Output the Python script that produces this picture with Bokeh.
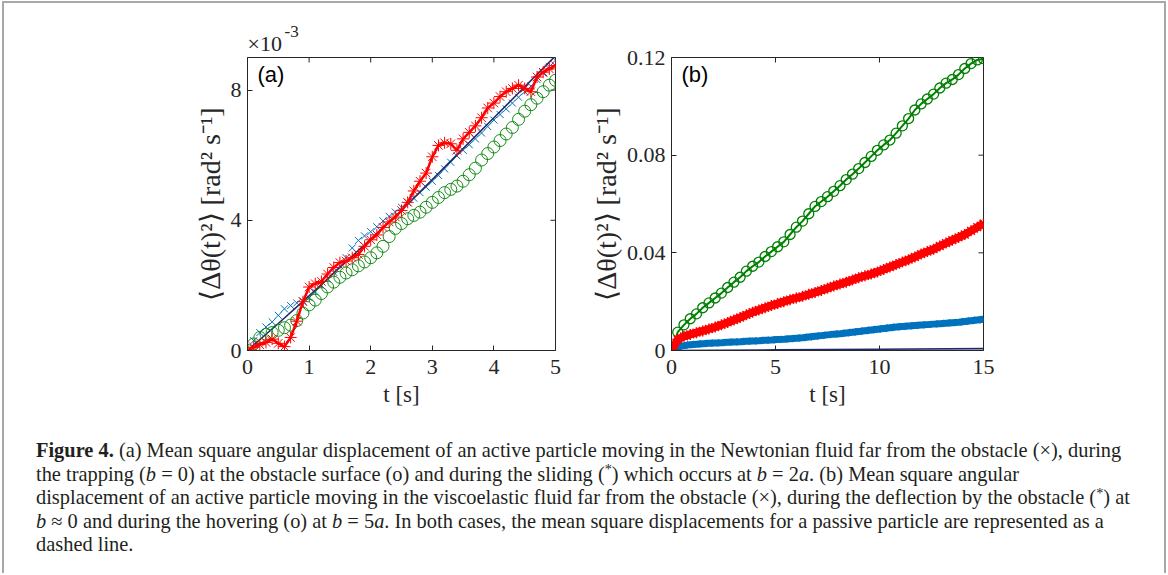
import math
from bokeh.plotting import figure
from bokeh.models import Range1d, FixedTicker, Label, Div, Spacer, Title
from bokeh.layouts import row, column
from bokeh.embed import file_html
from bokeh.resources import INLINE

# ---------------- data: panel (a), Newtonian fluid (values in units of 1e-3 rad^2 s^-1)
t_a = [0.0, 0.1, 0.2, 0.3, 0.4, 0.5, 0.6, 0.7, 0.8, 0.9,
       1.0, 1.1, 1.2, 1.3, 1.4, 1.5, 1.6, 1.7, 1.8, 1.9,
       2.0, 2.1, 2.2, 2.3, 2.4, 2.5, 2.6, 2.7, 2.8, 2.9,
       3.0, 3.1, 3.2, 3.3, 3.4, 3.5, 3.6, 3.7, 3.8, 3.9,
       4.0, 4.1, 4.2, 4.3, 4.4, 4.5, 4.6, 4.7, 4.8, 4.9, 5.0]
far_a = [0.00, 0.30, 0.55, 0.72, 0.88, 1.08, 1.28, 1.38, 1.46, 1.52,
         1.62, 1.80, 2.00, 2.20, 2.40, 2.60, 2.85, 3.15, 3.38, 3.52,
         3.65, 3.80, 3.98, 4.12, 4.25, 4.40, 4.55, 4.68, 4.85, 5.02,
         5.20, 5.38, 5.58, 5.78, 5.98, 6.15, 6.32, 6.50, 6.68, 6.88,
         7.08, 7.25, 7.42, 7.60, 7.78, 7.95, 8.12, 8.32, 8.52, 8.72, 8.92]
sliding_a = [0.00, 0.10, 0.18, 0.25, 0.35, 0.22, 0.12, 0.40, 0.90, 1.50,
             1.95, 2.05, 2.12, 2.35, 2.55, 2.70, 2.75, 2.85, 2.95, 3.20,
             3.40, 3.55, 3.78, 3.95, 4.10, 4.30, 4.55, 4.90, 5.20, 5.45,
             5.95, 6.30, 6.38, 6.35, 6.15, 6.50, 6.70, 6.90, 7.15, 7.45,
             7.60, 7.80, 7.95, 8.05, 8.15, 8.05, 7.95, 8.40, 8.55, 8.65, 8.75]
trapping_a = [0.00, 0.20, 0.40, 0.50, 0.55, 0.62, 0.70, 0.78, 0.92, 1.15,
              1.40, 1.55, 1.75, 1.95, 2.10, 2.25, 2.38, 2.48, 2.60, 2.72,
              2.85, 3.00, 3.20, 3.50, 3.75, 3.90, 4.05, 4.15, 4.25, 4.40,
              4.55, 4.70, 4.85, 4.95, 5.05, 5.20, 5.40, 5.60, 5.85, 6.05,
              6.25, 6.45, 6.65, 6.85, 7.10, 7.35, 7.55, 7.75, 7.95, 8.15, 8.30]
passive_t_a = [0.0, 0.5, 1.0, 1.5, 2.0, 2.5, 3.0, 3.5, 4.0, 4.5, 5.0]
passive_a = [0.00, 0.83, 1.68, 2.55, 3.42, 4.30, 5.25, 6.20, 7.15, 8.10, 9.05]

# ---------------- data: panel (b), viscoelastic fluid (rad^2 s^-1)
t_b = [0.0, 0.3, 0.6, 0.9, 1.2, 1.5, 1.8, 2.1, 2.4, 2.7,
       3.0, 3.3, 3.6, 3.9, 4.2, 4.5, 4.8, 5.1, 5.4, 5.7,
       6.0, 6.3, 6.6, 6.9, 7.2, 7.5, 7.8, 8.1, 8.4, 8.7,
       9.0, 9.3, 9.6, 9.9, 10.2, 10.5, 10.8, 11.1, 11.4, 11.7,
       12.0, 12.3, 12.6, 12.9, 13.2, 13.5, 13.8, 14.1, 14.4, 14.7, 15.0]
hovering_b = [0.0000, 0.0075, 0.0105, 0.0130, 0.0150, 0.0175, 0.0195, 0.0215, 0.0235, 0.0258,
              0.0280, 0.0300, 0.0325, 0.0345, 0.0362, 0.0385, 0.0405, 0.0425, 0.0445, 0.0475,
              0.0505, 0.0530, 0.0560, 0.0590, 0.0610, 0.0630, 0.0652, 0.0675, 0.0700, 0.0722,
              0.0745, 0.0770, 0.0795, 0.0820, 0.0842, 0.0862, 0.0890, 0.0920, 0.0950, 0.0985,
              0.1010, 0.1030, 0.1050, 0.1075, 0.1095, 0.1110, 0.1130, 0.1155, 0.1175, 0.1190,
              0.1195]
deflection_b = [0.0000, 0.0045, 0.0058, 0.0066, 0.0073, 0.0080, 0.0088, 0.0096, 0.0105, 0.0115,
                0.0125, 0.0135, 0.0146, 0.0157, 0.0166, 0.0175, 0.0184, 0.0192, 0.0200, 0.0208,
                0.0215, 0.0222, 0.0230, 0.0238, 0.0246, 0.0255, 0.0264, 0.0272, 0.0280, 0.0289,
                0.0298, 0.0306, 0.0313, 0.0322, 0.0332, 0.0342, 0.0352, 0.0362, 0.0372, 0.0383,
                0.0395, 0.0405, 0.0415, 0.0428, 0.0440, 0.0452, 0.0463, 0.0475, 0.0490, 0.0505,
                0.0520]
far_b = [0.0000, 0.0015, 0.0020, 0.0024, 0.0026, 0.0028, 0.0030, 0.0031, 0.0032, 0.0034,
         0.0035, 0.0036, 0.0038, 0.0039, 0.0040, 0.0042, 0.0043, 0.0045, 0.0046, 0.0048,
         0.0050, 0.0052, 0.0055, 0.0058, 0.0061, 0.0064, 0.0067, 0.0069, 0.0072, 0.0075,
         0.0078, 0.0081, 0.0084, 0.0087, 0.0090, 0.0093, 0.0096, 0.0098, 0.0100, 0.0102,
         0.0104, 0.0106, 0.0108, 0.0110, 0.0112, 0.0114, 0.0116, 0.0119, 0.0122, 0.0125,
         0.0128]
passive_t_b = [0.0, 5.0, 10.0, 15.0]
passive_b = [0.0, 0.00025, 0.0005, 0.00075]

# ---------------- tick labels
xticks_a = [0, 1, 2, 3, 4, 5]
yticks_a = [0, 4, 8]
xticks_b = [0, 5, 10, 15]
yticks_b = [0, 0.04, 0.08, 0.12]
ylabels_b = {0: "0", 0.04: "0.04", 0.08: "0.08", 0.12: "0.12"}

YLABEL = "\u27e8\u0394\u03b8(t)\u00b2\u27e9 [rad\u00b2 s\u207b\u00b9]"
XLABEL = "t [s]"

AX = "#262626"
SERIF = "Liberation Serif"
BLUE = "#0072BD"
RED = "#FF0000"
GREEN = "#008000"
NAVY = "#1F2A6B"


def style_axis(ax, ticks, overrides=None, standoff=6):
    ax.ticker = FixedTicker(ticks=ticks)
    ax.major_tick_in = 5
    ax.major_tick_out = 0
    ax.minor_tick_in = 0
    ax.minor_tick_out = 0
    ax.axis_line_color = AX
    ax.axis_line_width = 1
    ax.major_tick_line_color = AX
    ax.major_tick_line_width = 1
    ax.major_label_text_font = SERIF
    ax.major_label_text_color = AX
    ax.major_label_text_font_size = "22px"
    ax.major_label_standoff = standoff
    if overrides:
        ax.major_label_overrides = overrides
    ax.axis_label_text_font = SERIF
    ax.axis_label_text_font_style = "normal"
    ax.axis_label_text_color = AX


def make_panel(xr, yr, xt, yt, left, right, top, yover=None):
    p = figure(width=430, height=412, x_range=Range1d(*xr), y_range=Range1d(*yr),
               output_backend="svg", toolbar_location=None,
               min_border_left=left, min_border_right=right,
               min_border_top=top, min_border_bottom=65)
    p.grid.visible = False
    p.outline_line_color = AX
    p.outline_line_width = 1
    p.background_fill_color = "white"
    p.border_fill_color = "white"
    style_axis(p.xaxis[0], xt, standoff=9)
    style_axis(p.yaxis[0], yt, overrides=yover, standoff=6)
    p.xaxis[0].axis_label = XLABEL
    p.xaxis[0].axis_label_text_font_size = "23px"
    p.xaxis[0].axis_label_standoff = 5
    p.yaxis[0].axis_label = YLABEL
    p.yaxis[0].axis_label_text_font_size = "28px"
    p.yaxis[0].axis_label_standoff = 2
    # inward box ticks on the top and right edges
    p.ray(x=xt, y=[yr[1]] * len(xt), length=5, length_units="screen",
          angle=-math.pi / 2, line_color=AX, line_width=1)
    p.ray(x=[xr[1]] * len(yt), y=yt, length=5, length_units="screen",
          angle=math.pi, line_color=AX, line_width=1)
    return p


# ---------------- panel (a)
pa = make_panel((0, 5), (0, 9), xticks_a, yticks_a, 97, 25, 54)
pa.scatter(t_a, far_a, marker="x", size=10, line_color=BLUE, line_width=1)
pa.line(passive_t_a, passive_a, line_color=NAVY, line_width=1.6)
pa.scatter(t_a, trapping_a, marker="circle", size=12, fill_color=None,
           line_color=GREEN, line_width=0.9)
pa.line(t_a, sliding_a, line_color=RED, line_width=2.5)
pa.scatter(t_a, sliding_a, marker="asterisk", size=12, line_color=RED, line_width=1)
pa.add_layout(Label(x=0, y=9, x_offset=10, y_offset=-4, text="(a)",
                    text_font="Liberation Sans", text_font_size="22px", text_color="black",
                    text_align="left", text_baseline="top"))
# axis multiplier "x10^-3" above the top-left corner
pa.add_layout(Title(text="\u00d710", align="left", text_font=SERIF,
                    text_font_size="22px", text_font_style="normal", text_color=AX,
                    standoff=3, offset=0), "above")
pa.add_layout(Title(text="-3", align="left", text_font=SERIF,
                    text_font_size="17px", text_font_style="normal", text_color=AX,
                    standoff=-19, offset=37), "above")

# ---------------- panel (b)
pb = make_panel((0, 15), (0, 0.12), xticks_b, yticks_b, 91, 27, 51, yover=ylabels_b)
pb.line(t_b, far_b, line_color=BLUE, line_width=7)
pb.scatter(t_b, far_b, marker="x", size=9, line_color=BLUE, line_width=1.5)
pb.line(passive_t_b, passive_b, line_color=NAVY, line_width=1.6)
pb.line(t_b, hovering_b, line_color=GREEN, line_width=2)
pb.scatter(t_b, hovering_b, marker="circle", size=10, fill_color=None,
           line_color=GREEN, line_width=1.3)
pb.line(t_b, deflection_b, line_color=RED, line_width=8)
pb.scatter(t_b, deflection_b, marker="asterisk", size=11, line_color=RED, line_width=1.5)
pb.add_layout(Label(x=0, y=0.12, x_offset=10, y_offset=-4, text="(b)",
                    text_font="Liberation Sans", text_font_size="22px", text_color="black",
                    text_align="left", text_baseline="top"))

# ---------------- caption
STAR = "<span style='position:relative;top:-0.45em;font-size:0.7em;line-height:0'>*</span>"
caption_html = (
    "<b>Figure 4.</b> (a) Mean square angular displacement of an active particle moving in the "
    "Newtonian fluid far from the obstacle (\u00d7), during<br>"
    "the trapping (<i>b</i> = 0) at the obstacle surface (o) and during the sliding (" + STAR + ") "
    "which occurs at <i>b</i> = 2<i>a</i>. (b) Mean square angular<br>"
    "displacement of an active particle moving in the viscoelastic fluid far from the obstacle "
    "(\u00d7), during the deflection by the obstacle (" + STAR + ") at<br>"
    "<i>b</i> \u2248 0 and during the hovering (o) at <i>b</i> = 5<i>a</i>. In both cases, the mean "
    "square displacements for a passive particle are represented as a<br>"
    "dashed line."
)
cap = Div(text=caption_html, width=1126, height=158, margin=0,
          styles={"font-family": "Liberation Serif", "font-size": "20.4px",
                  "line-height": "23.5px", "color": "#231f20", "white-space": "nowrap",
                  "padding-top": "24px", "box-sizing": "border-box"})

top_row = row(Spacer(width=146, height=412), pa, pb, Spacer(width=154, height=412))
cap_row = row(Spacer(width=32, height=158), cap)
layout = column(top_row, cap_row, margin=(1, 0, 0, 2),
                styles={"border-top": "2px solid #a8a8a8", "border-left": "2px solid #a8a8a8",
                        "border-right": "2px solid #a8a8a8", "background": "white"})

open("out.html", "w").write(file_html(layout, INLINE))
